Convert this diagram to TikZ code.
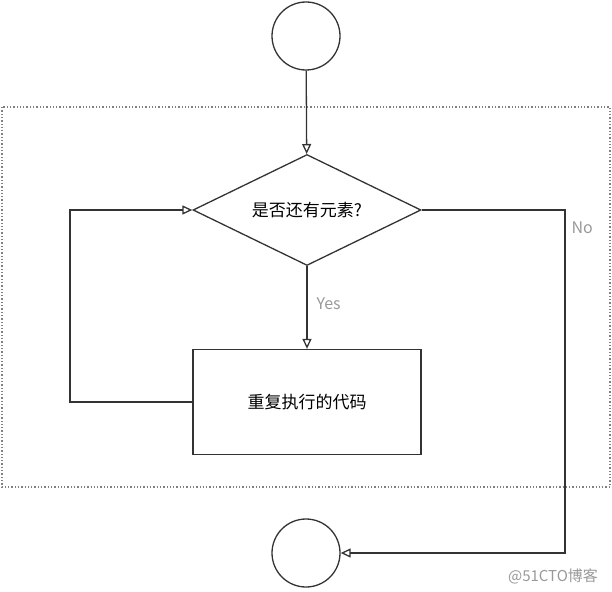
\documentclass[tikz,border=0pt]{standalone}
\usepackage{fontspec}
\setmainfont{Noto Sans CJK SC}
\usepackage{xcolor}
\usepackage{tikz}
\usetikzlibrary{arrows.meta,positioning,shapes.geometric}

\definecolor{linegray}{HTML}{333333}
\definecolor{lblgray}{HTML}{999999}

\begin{document}
\begin{tikzpicture}[
    x=1pt, y=-1pt,
    term/.style={draw=linegray, circle, line width=1.3pt, minimum size=68pt, inner sep=0pt},
    decision/.style={draw=linegray, diamond, aspect=2, line width=1.3pt, minimum width=228pt, minimum height=111pt, inner sep=0pt, font=\fontsize{17}{20}\selectfont},
    proc/.style={draw=linegray, rectangle, line width=1.3pt, minimum width=228pt, minimum height=105pt, font=\fontsize{17}{20}\selectfont},
    arr/.style={-{Triangle[open, length=10pt, width=9pt]}, line width=1.3pt, draw=linegray},
    lbl/.style={font=\fontsize{16}{18}\selectfont, text=lblgray},
    loopbox/.style={dotted, line width=1.3pt, draw=gray}
]
\useasboundingbox (0,0) rectangle (612,591);

% Loop area
\draw[loopbox] (2,107) rectangle (610,487);

% Start / end
\node[term] (start) at (306,36) {};
\node[term] (stop) at (306,553) {};

% Condition and loop body
\node[decision] (cond) at (307,210) {是否还有元素?};
\node[proc] (body) at (307,402) {重复执行的代码};

% Yes branch
\draw[arr] (start) -- (cond);
\draw[arr] (cond) -- (body);
\node[lbl, right] (yeslbl) at (313,304) {Yes};

% Back to the condition
\coordinate (back) at (70,402);
\draw[arr] (body.west) -- (back) |- (cond.west);

% No branch
\coordinate (noturn) at (565,210);
\draw[arr] (cond.east) -- (noturn) |- (stop);
\node[lbl, right] (nolbl) at (568,228) {No};

% Watermark
\node[lbl, font=\fontsize{15}{17}\selectfont] (wm) at (553,576) {@51CTO博客};
\end{tikzpicture}
\end{document}
